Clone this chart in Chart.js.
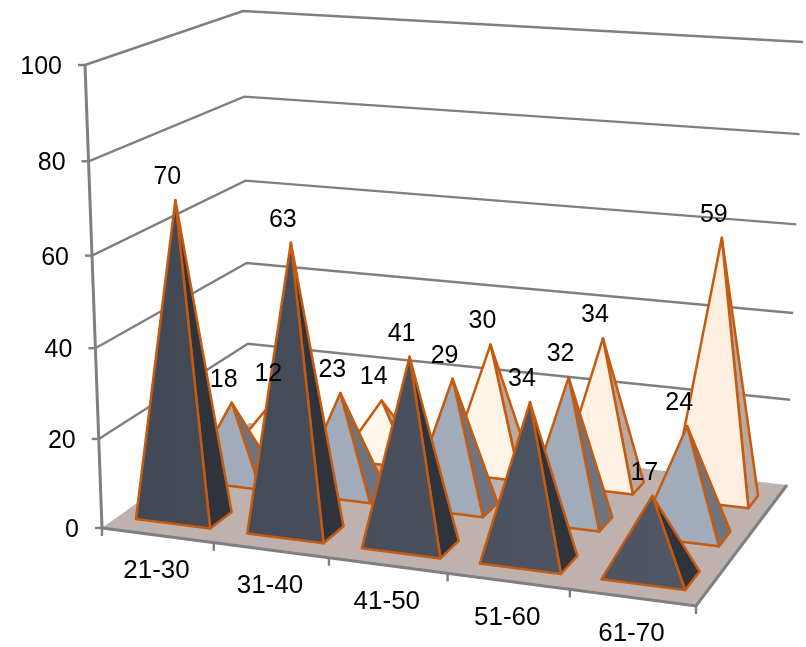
<!DOCTYPE html>
<html>
<head>
<meta charset="utf-8">
<title>Pyramid chart</title>
<script src="https://cdn.jsdelivr.net/npm/chart.js@4"></script>
<style>
    body { margin: 0; background: #fff; }
    canvas { display: block; }
</style>
</head>
<body>
<canvas id="chart" width="806" height="647"></canvas>
<script>
const categories = ['21-30', '31-40', '41-50', '51-60', '61-70'];
const frontValues = [70, 63, 41, 34, 17];
const middleValues = [18, 23, 29, 32, 24];
const backValues = [12, 14, 30, 34, 59];

const yMax = 100;
const yStep = 20;

// corners of the 3d box on screen: front left, front right, back right, back left
const floorQuad = [[102, 528], [696, 606], [787, 485], [249, 423]];
const topQuad = [[85, 65], [709, 105], [803, 42], [243, 11]];

const baseHalfWidth = 0.067;
const rowDepths = [0.17, 0.505, 0.825];
const rowHalfDepths = [0.072, 0.062, 0.056];

const edgeColor = '#C55A11';
const gridColor = '#7F7F7F';
const floorColor = '#BFB1AD';
const fontFamily = '"Liberation Sans", Arial, sans-serif';

function quadMap(q) {
    const [x0, y0] = q[0], [x1, y1] = q[1], [x2, y2] = q[2], [x3, y3] = q[3];
    const dx1 = x1 - x2, dx2 = x3 - x2, sx = x0 - x1 + x2 - x3;
    const dy1 = y1 - y2, dy2 = y3 - y2, sy = y0 - y1 + y2 - y3;
    const det = dx1 * dy2 - dx2 * dy1;
    const g = (sx * dy2 - dx2 * sy) / det;
    const h = (dx1 * sy - sx * dy1) / det;
    const a = x1 - x0 + g * x1, b = x3 - x0 + h * x3;
    const d = y1 - y0 + g * y1, e = y3 - y0 + h * y3;
    return function (u, v) {
        const w = g * u + h * v + 1;
        return [(a * u + b * v + x0) / w, (d * u + e * v + y0) / w];
    };
}

const floorAt = quadMap(floorQuad);
const topAt = quadMap(topQuad);

// u, v are fractions across and into the floor, t is the fraction of the y scale
function project(u, v, t) {
    const f = floorAt(u, v), c = topAt(u, v);
    const s = t / (t + (1 - t) * 1.05);
    return [f[0] + (c[0] - f[0]) * s, f[1] + (c[1] - f[1]) * s];
}

function scaleU(chart, index) {
    const area = chart.chartArea;
    return (chart.scales.x.getPixelForValue(index) - area.left) / (area.right - area.left);
}

function scaleT(chart, value) {
    const area = chart.chartArea;
    return (area.bottom - chart.scales.y.getPixelForValue(value)) / (area.bottom - area.top);
}

function polygon(ctx, points, fill) {
    ctx.beginPath();
    points.forEach(function (p, i) {
        if (i === 0) ctx.moveTo(p[0], p[1]);
        else ctx.lineTo(p[0], p[1]);
    });
    ctx.closePath();
    ctx.fillStyle = fill;
    ctx.fill();
    ctx.strokeStyle = edgeColor;
    ctx.lineWidth = 2.5;
    ctx.lineJoin = 'round';
    ctx.stroke();
}

function line(ctx, points, width) {
    ctx.beginPath();
    points.forEach(function (p, i) {
        if (i === 0) ctx.moveTo(p[0], p[1]);
        else ctx.lineTo(p[0], p[1]);
    });
    ctx.strokeStyle = gridColor;
    ctx.lineWidth = width;
    ctx.lineJoin = 'miter';
    ctx.stroke();
}

class PyramidController extends Chart.BarController {
    draw() {
        const chart = this.chart, ctx = chart.ctx;
        const dataset = this.getDataset();
        const depth = rowDepths[this.index];
        const halfDepth = rowHalfDepths[this.index];
        const frontFill = ctx.createLinearGradient(100, 0, 760, 0);
        frontFill.addColorStop(0, dataset.frontColors[0]);
        frontFill.addColorStop(1, dataset.frontColors[1]);
        dataset.data.forEach(function (value, i) {
            const u = scaleU(chart, i);
            const fl = project(u - baseHalfWidth, depth - halfDepth, 0);
            const fr = project(u + baseHalfWidth, depth - halfDepth, 0);
            const br = project(u + baseHalfWidth, depth + halfDepth, 0);
            const apex = project(u, depth, scaleT(chart, value));
            polygon(ctx, [fr, br, apex], dataset.sideColor);
            polygon(ctx, [fl, fr, apex], frontFill);
        });
    }
}
PyramidController.id = 'pyramid';
PyramidController.defaults = Chart.BarController.defaults;
Chart.register(PyramidController);

const box3d = {
    id: 'box3d',
    beforeDatasetsDraw(chart) {
        const ctx = chart.ctx;
        // walls
        chart.scales.y.ticks.forEach(function (tick) {
            const t = scaleT(chart, tick.value);
            if (t > 0) line(ctx, [project(0, 0, t), project(0, 1, t), project(1, 1, t)], 2.4);
            const p = project(0, 0, t);
            line(ctx, [[p[0] - 7, p[1]], p], 2.4);
        });
        line(ctx, [project(0, 0, 0), project(0, 0, 1)], 3);
        // floor
        ctx.beginPath();
        floorQuad.forEach(function (p, i) {
            if (i === 0) ctx.moveTo(p[0], p[1]);
            else ctx.lineTo(p[0], p[1]);
        });
        ctx.closePath();
        ctx.fillStyle = floorColor;
        ctx.fill();
        line(ctx, [floorQuad[0], floorQuad[1], floorQuad[2]], 3);
        for (let i = 0; i <= categories.length; i++) {
            const p = project(i / categories.length, 0, 0);
            line(ctx, [p, [p[0], p[1] + 8]], 2.4);
        }
    },
    afterDatasetsDraw(chart) {
        const ctx = chart.ctx;
        ctx.save();
        ctx.fillStyle = '#000';
        ctx.textBaseline = 'middle';
        ctx.textAlign = 'center';
        ctx.font = '25px ' + fontFamily;
        // value labels above each apex
        chart.data.datasets.forEach(function (dataset, d) {
            dataset.data.forEach(function (value, i) {
                const apex = project(scaleU(chart, i), rowDepths[d], scaleT(chart, value));
                ctx.fillText(String(value), apex[0] - 8, apex[1] - 23);
            });
        });
        // y labels along the slanted axis
        ctx.textAlign = 'right';
        chart.scales.y.ticks.forEach(function (tick) {
            const p = project(0, 0, scaleT(chart, tick.value));
            ctx.fillText(String(tick.value), p[0] - 23, p[1] + 2);
        });
        // category labels under the front edge
        ctx.textAlign = 'center';
        ctx.font = '26px ' + fontFamily;
        categories.forEach(function (label, i) {
            const p = project(scaleU(chart, i), 0, 0);
            ctx.fillText(label, p[0] - 1, p[1] + 36);
        });
        ctx.restore();
    }
};

new Chart(document.getElementById('chart'), {
    type: 'pyramid',
    data: {
        labels: categories,
        datasets: [
            { label: 'Front', data: frontValues, clip: false, frontColors: ['#424754', '#525865'], sideColor: '#2F333C' },
            { label: 'Middle', data: middleValues, clip: false, frontColors: ['#A2ABBA', '#A2ABBA'], sideColor: '#6E7580' },
            { label: 'Back', data: backValues, clip: false, frontColors: ['#FFFFF2', '#FFEEDF'], sideColor: '#BCA99D' }
        ]
    },
    options: {
        responsive: false,
        animation: false,
        events: [],
        layout: { padding: { left: 102, right: 110, top: 65, bottom: 119 } },
        plugins: { legend: { display: false }, tooltip: { enabled: false } },
        scales: {
            x: { type: 'category', offset: true, display: false },
            y: { type: 'linear', min: 0, max: yMax, display: false, ticks: { stepSize: yStep } }
        }
    },
    plugins: [box3d]
});
</script>
</body>
</html>
